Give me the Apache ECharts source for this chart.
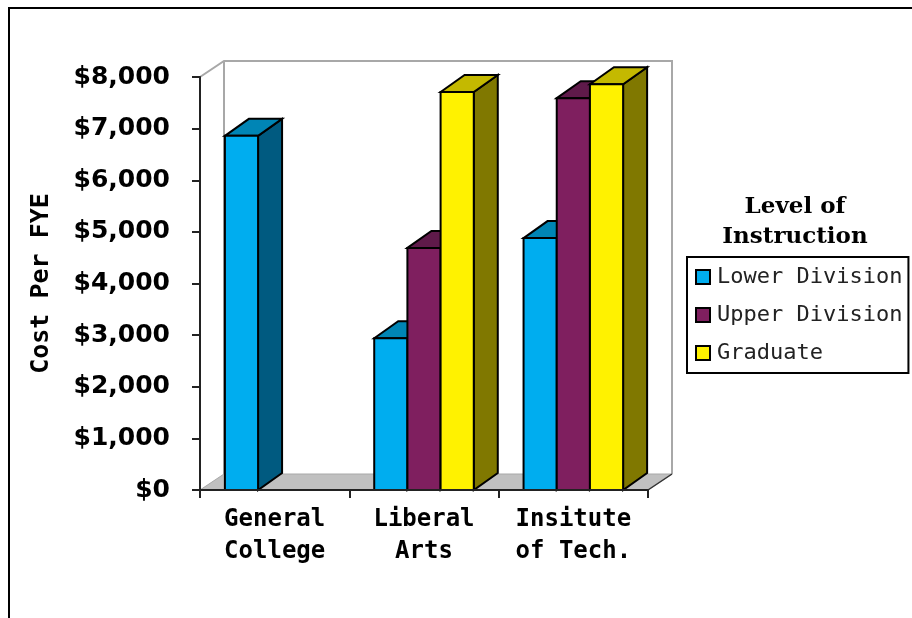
<!DOCTYPE html>
<html>
<head>
<meta charset="utf-8">
<style>html,body{margin:0;padding:0;background:#fff}#chart{width:912px;height:618px}</style>
<script src="https://cdn.jsdelivr.net/npm/echarts@6/dist/echarts.min.js"></script>
</head>
<body>
<div id="chart"></div>
<script>
// Cost per FYE by college and level of instruction
const categories = ['General\nCollege', 'Liberal\nArts', 'Insitute\nof Tech.'];
const lowerDivision = [6860, 2940, 4880];
const upperDivision = [null, 4690, 7590];
const graduate = [null, 7710, 7860];
const levels = ['Lower Division', 'Upper Division', 'Graduate'];

// face colours of each extruded bar: front, top, side
const lowerFaces = ['#00adef', '#0085b5', '#005a80'];
const upperFaces = ['#7f1f5f', '#5f1a4a', '#5a1545'];
const gradFaces = ['#fff200', '#c4b900', '#807800'];

const DX = 24, DY = -17;           // oblique depth of the bars
const WALL_DX = 24, WALL_DY = -16; // oblique depth of the chart box

function barSeries(name, values, faces, slot) {
  return {
    name, type: 'custom', z: 3 + slot,
    itemStyle: { color: faces[0], borderColor: '#000', borderWidth: 2 },
    encode: { x: 0, y: 1 },
    data: values.map((v, i) => [i, v]),
    renderItem(params, api) {
      if (api.value(1) == null || isNaN(api.value(1))) return null;
      const top = api.coord([api.value(0), api.value(1)]);
      const base = api.coord([api.value(0), 0]);
      const w = api.size([1, 0])[0] / 4.5;
      const x0 = top[0] + (slot - 1.5) * w, x1 = x0 + w, y0 = top[1], y1 = base[1];
      const line = { stroke: '#000', lineWidth: 2, lineJoin: 'miter' };
      const poly = (pts, fill) => ({ type: 'polygon', shape: { points: pts }, style: { fill, ...line } });
      return {
        type: 'group',
        children: [
          poly([[x1, y0], [x1 + DX, y0 + DY], [x1 + DX, y1 + DY], [x1, y1]], faces[2]),
          poly([[x0, y0], [x0 + DX, y0 + DY], [x1 + DX, y0 + DY], [x1, y0]], faces[1]),
          poly([[x0, y0], [x1, y0], [x1, y1], [x0, y1]], faces[0])
        ]
      };
    }
  };
}

// floor and back wall of the chart box, placed from the grid rectangle
const chamber = {
  type: 'custom', z: 1, silent: true, data: [[0, 0]], encode: { x: 0, y: 1 },
  renderItem(params) {
    const c = params.coordSys;
    const l = c.x, r = c.x + c.width, t = c.y, b = c.y + c.height;
    const grey = { stroke: '#a8a8a8', lineWidth: 2, fill: null };
    return {
      type: 'group',
      children: [
        { type: 'polygon', shape: { points: [[l, b], [l + WALL_DX, b + WALL_DY], [r + WALL_DX, b + WALL_DY], [r, b]] },
          style: { fill: '#c0c0c0', stroke: '#a8a8a8', lineWidth: 1 } },
        { type: 'polyline', shape: { points: [[l, t], [l + WALL_DX, t + WALL_DY], [r + WALL_DX, t + WALL_DY], [r + WALL_DX, b + WALL_DY]] }, style: grey },
        { type: 'line', shape: { x1: l + WALL_DX, y1: t + WALL_DY, x2: l + WALL_DX, y2: b + WALL_DY }, style: grey },
        { type: 'line', shape: { x1: r, y1: b, x2: r + WALL_DX, y2: b + WALL_DY }, style: { stroke: '#333', lineWidth: 1.5 } }
      ]
    };
  }
};

const chart = echarts.init(document.getElementById('chart'), null, { renderer: 'canvas' });
chart.setOption({
  animation: false,
  backgroundColor: '#fff',
  grid: { left: 200, top: 77, width: 448, height: 413 },
  title: {
    text: 'Level of\nInstruction', left: 790, top: 187, textAlign: 'center',
    textStyle: { fontFamily: 'DejaVu Serif', fontWeight: 'bold', fontSize: 23, lineHeight: 30, color: '#000' }
  },
  legend: {
    orient: 'vertical', left: 687, top: 257, data: levels, icon: 'rect',
    itemWidth: 14, itemHeight: 14, itemGap: 16, padding: [9, 6, 9, 8],
    borderColor: '#000', borderWidth: 2, backgroundColor: '#fff',
    itemStyle: { borderColor: '#000', borderWidth: 2 },
    textStyle: { fontFamily: 'DejaVu Sans Mono', fontSize: 22, color: '#222', padding: [0, 0, 0, 2] }
  },
  xAxis: {
    type: 'category', data: categories, boundaryGap: true, z: 10,
    axisLine: { show: true, lineStyle: { color: '#222', width: 2 } },
    axisTick: { show: true, alignWithLabel: false, interval: 0, length: 8, lineStyle: { color: '#222', width: 2 } },
    axisLabel: { fontFamily: 'DejaVu Sans Mono', fontWeight: 'bold', fontSize: 24, lineHeight: 32, color: '#000', margin: 14, interval: 0 }
  },
  yAxis: {
    type: 'value', min: 0, max: 8000, interval: 1000, z: 10,
    name: 'Cost Per FYE', nameLocation: 'middle', nameRotate: 90, nameGap: 146,
    nameTextStyle: { fontFamily: 'DejaVu Sans Mono', fontWeight: 'bold', fontSize: 25, color: '#000' },
    splitLine: { show: false },
    axisLine: { show: true, lineStyle: { color: '#222', width: 2 } },
    axisTick: { show: true, length: 8, lineStyle: { color: '#222', width: 2 } },
    axisLabel: {
      fontFamily: 'DejaVu Sans', fontWeight: 'bold', fontSize: 25, color: '#000', margin: 30,
      padding: [3, 0, 0, 0],
      formatter: v => '$' + v.toLocaleString('en-US')
    }
  },
  graphic: [
    // page frame along the top and left edges
    { type: 'polyline', silent: true, z: 0, shape: { points: [[9, 618], [9, 8], [912, 8]] }, style: { stroke: '#000', lineWidth: 2, fill: null } }
  ],
  series: [
    chamber,
    barSeries(levels[0], lowerDivision, lowerFaces, 0),
    barSeries(levels[1], upperDivision, upperFaces, 1),
    barSeries(levels[2], graduate, gradFaces, 2)
  ]
});
</script>
</body>
</html>
